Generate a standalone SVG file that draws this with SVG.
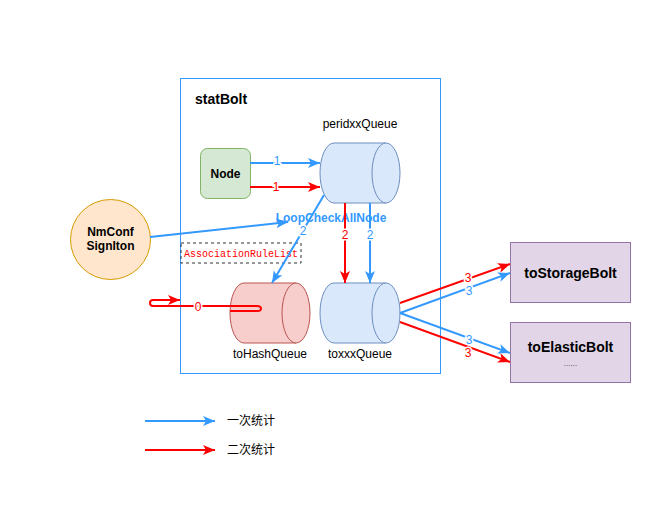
<svg xmlns="http://www.w3.org/2000/svg" width="661" height="511" viewBox="0 0 661 511">
<defs>
<marker id="ab" markerUnits="userSpaceOnUse" markerWidth="14" markerHeight="12" refX="12" refY="5" orient="auto" viewBox="0 0 14 12">
<path d="M0,0 L12,5 L0,10 L3,5 Z" fill="#3399FF"/>
</marker>
<marker id="ar" markerUnits="userSpaceOnUse" markerWidth="14" markerHeight="12" refX="12" refY="5" orient="auto" viewBox="0 0 14 12">
<path d="M0,0 L12,5 L0,10 L3,5 Z" fill="#FF0000"/>
</marker>
<style>
text{font-family:"Liberation Sans",Arial,sans-serif;}
.lbl{font-size:12px;fill:#000;text-anchor:middle;}
.b{font-weight:bold;}
.cjk{font-family:"Liberation Sans","Noto Sans CJK SC",sans-serif;font-size:12px;fill:#000;}
.eb{fill:none;stroke:#3399FF;stroke-width:2;marker-end:url(#ab);}
.er{fill:none;stroke:#FF0000;stroke-width:2;marker-end:url(#ar);}
.tb{font-size:12px;fill:#3399FF;text-anchor:middle;stroke:#fff;stroke-width:3;paint-order:stroke;}
.tr{font-size:12px;fill:#FF0000;text-anchor:middle;stroke:#fff;stroke-width:3;paint-order:stroke;}
.cylb{fill:#dae8fc;stroke:#6c8ebf;stroke-width:1;}
.cylr{fill:#f8cecc;stroke:#b85450;stroke-width:1;}
.bolt{fill:#e1d5e7;stroke:#9673a6;stroke-width:1;}
</style>
</defs>
<rect width="661" height="511" fill="#fff"/>

<g id="statBolt">
<rect x="180.5" y="78.5" width="260" height="295" fill="none" stroke="#3399FF" stroke-width="1"/>
<text x="195" y="104" class="b" style="font-size:14px">statBolt</text>
</g>

<g id="Node">
<rect x="200.5" y="148.5" width="50" height="50" rx="7" fill="#d5e8d4" stroke="#82b366"/>
<text x="225.5" y="178" class="lbl b">Node</text>
</g>

<g id="peridxxQueue">
<path class="cylb" d="M334,143 L386,143 A14,30 0 0 1 386,203 L334,203 A14,30 0 0 1 334,143 Z"/>
<path class="cylb" fill="none" d="M386,143 A14,30 0 0 0 386,203"/>
<text x="360" y="128" class="lbl">peridxxQueue</text>
</g>

<g id="NmConfSignIton">
<circle cx="110.5" cy="239.5" r="40" fill="#ffe6cc" stroke="#d79b00"/>
<text x="110.5" y="236" class="lbl b">NmConf</text>
<text x="110.5" y="250" class="lbl b">SignIton</text>
</g>

<g id="AssociationRuleList">
<rect x="181" y="243" width="120" height="20" fill="none" stroke="#333" stroke-dasharray="3,3"/>
<text x="241" y="257" style="font-family:'Liberation Mono','Courier New',monospace;font-size:10px;fill:#FF0000;text-anchor:middle">AssociationRuleList</text>
</g>

<g id="toHashQueue">
<path class="cylr" d="M244,283 L296,283 A14,30 0 0 1 296,343 L244,343 A14,30 0 0 1 244,283 Z"/>
<path class="cylr" fill="none" d="M296,283 A14,30 0 0 0 296,343"/>
<text x="270" y="358" class="lbl">toHashQueue</text>
</g>

<g id="toxxxQueue">
<path class="cylb" d="M334,283 L386,283 A14,30 0 0 1 386,343 L334,343 A14,30 0 0 1 334,283 Z"/>
<path class="cylb" fill="none" d="M386,283 A14,30 0 0 0 386,343"/>
<text x="360" y="358" class="lbl">toxxxQueue</text>
</g>

<g id="toStorageBolt">
<rect class="bolt" x="510.5" y="242.5" width="120" height="60"/>
<text x="570.5" y="278" class="lbl b" style="font-size:14px">toStorageBolt</text>
</g>

<g id="toElasticBolt">
<rect class="bolt" x="510.5" y="322.5" width="120" height="60"/>
<text x="570.5" y="352" class="lbl b" style="font-size:14px">toElasticBolt</text>
<text x="570.5" y="366" style="font-size:8px;fill:#333;text-anchor:middle">......</text>
</g>

<g id="connectors">
<path class="eb" d="M250,163 L320,163"/>
<text x="277" y="165" class="tb">1</text>
<path class="er" d="M250,187 L320,187"/>
<text x="276" y="191" class="tr">1</text>

<path class="eb" d="M150,237 L288,222"/>
<text x="331" y="222" class="b" style="font-size:12px;fill:#3399FF;text-anchor:middle">LoopCheckAllNode</text>

<path class="eb" d="M324,195 L272,283"/>
<text x="303" y="235" class="tb">2</text>

<path class="er" d="M345,203 L345,283"/>
<text x="345" y="239" class="tr">2</text>
<path class="eb" d="M370,203 L370,283"/>
<text x="370" y="239" class="tb">2</text>

<path class="er" d="M230,311 L257,311 Q261,311 261,308.5 Q261,306 257,306 L153,306 Q150,306 150,303 Q150,300 153,300 L180,300"/>
<text x="198" y="311" class="tr">0</text>

<path class="er" d="M400,303 L510,264"/>
<text x="468" y="282" class="tr">3</text>
<path class="eb" d="M400,313 L510,273"/>
<text x="469" y="295" class="tb">3</text>
<path class="eb" d="M400,313 L510,353"/>
<text x="469" y="344" class="tb">3</text>
<path class="er" d="M400,322 L510,362"/>
<text x="468" y="357" class="tr">3</text>

<path class="eb" d="M145,421 L215,421"/>
<path class="er" d="M145,450 L215,450"/>
</g>

<g id="legend">
<text x="227" y="425" class="cjk">一次统计</text>
<text x="227" y="454" class="cjk">二次统计</text>
</g>
</svg>
